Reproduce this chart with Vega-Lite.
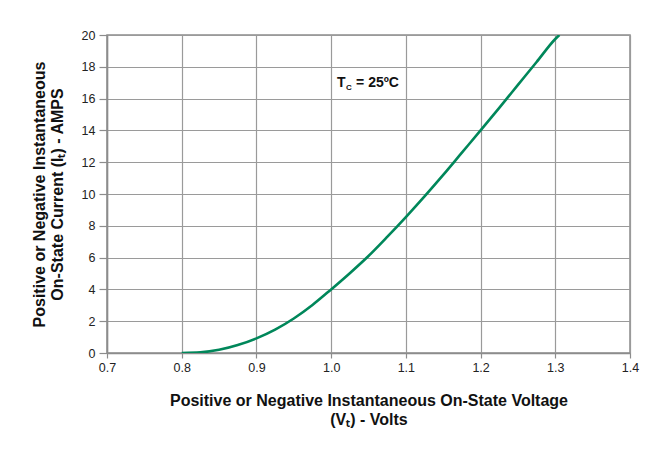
{
  "$schema": "https://vega.github.io/schema/vega-lite/v6.json",
  "autosize": {"type": "none"},
  "width": 523,
  "height": 318,
  "padding": {"left": 107, "top": 35, "right": 27, "bottom": 112},
  "background": "white",
  "config": {
    "view": {"stroke": "#8c8c8c", "strokeWidth": 1.5},
    "font": "Liberation Sans",
    "axis": {"labelFontSize": 12.5, "labelColor": "#222", "labelFont": "Liberation Sans"}
  },
  "datasets": {
    "curve": [
      {"V": 0.800, "I": 0},
      {"V": 0.825, "I": 0.04},
      {"V": 0.850, "I": 0.2},
      {"V": 0.875, "I": 0.5},
      {"V": 0.900, "I": 0.92},
      {"V": 0.925, "I": 1.47},
      {"V": 0.950, "I": 2.17},
      {"V": 0.975, "I": 3.02},
      {"V": 1.000, "I": 4.0},
      {"V": 1.025, "I": 5.02},
      {"V": 1.050, "I": 6.1},
      {"V": 1.075, "I": 7.3},
      {"V": 1.100, "I": 8.55},
      {"V": 1.125, "I": 9.85},
      {"V": 1.150, "I": 11.2},
      {"V": 1.175, "I": 12.6},
      {"V": 1.200, "I": 14.0},
      {"V": 1.225, "I": 15.42},
      {"V": 1.250, "I": 16.86},
      {"V": 1.275, "I": 18.3},
      {"V": 1.300, "I": 19.75},
      {"V": 1.3055, "I": 20.0}
    ],
    "note": [
      {"V": 1.008, "I": 17.0, "main": "T", "sub": "C", "rest": "= 25ºC"}
    ]
  },
  "encoding": {
    "x": {
      "field": "V", "type": "quantitative",
      "scale": {"domain": [0.7, 1.4], "nice": false, "zero": false},
      "axis": {
        "values": [0.7, 0.8, 0.9, 1.0, 1.1, 1.2, 1.3, 1.4],
        "format": ".1f",
        "labelFlush": false, "labelOverlap": false,
        "grid": true, "gridColor": "#9a9a9a", "gridWidth": 1.2, "gridOpacity": 1,
        "domainColor": "#8c8c8c", "domainWidth": 1.5,
        "tickColor": "#8c8c8c", "tickSize": 5, "tickWidth": 1.2,
        "labelFontSize": 12.5, "labelColor": "#222", "labelPadding": 3,
        "title": ["Positive or Negative Instantaneous On-State Voltage", "(Vₜ) - Volts"],
        "titleFontSize": 16, "titleFontWeight": "bold", "titleColor": "#111",
        "titlePadding": 19, "titleLineHeight": 19
      }
    },
    "y": {
      "field": "I", "type": "quantitative",
      "scale": {"domain": [0, 20], "nice": false},
      "axis": {
        "values": [0, 2, 4, 6, 8, 10, 12, 14, 16, 18, 20],
        "labelFlush": false, "labelOverlap": false,
        "grid": true, "gridColor": "#9a9a9a", "gridWidth": 1.2, "gridOpacity": 1,
        "domainColor": "#8c8c8c", "domainWidth": 1.5,
        "tickColor": "#8c8c8c", "tickSize": 8, "tickWidth": 1.2,
        "labelFontSize": 12.5, "labelColor": "#222", "labelPadding": 4,
        "title": ["Positive or Negative Instantaneous", "On-State Current (Iₜ) - AMPS"],
        "titleFontSize": 16, "titleFontWeight": "bold", "titleColor": "#111",
        "titlePadding": 16, "titleLineHeight": 18
      }
    }
  },
  "layer": [
    {
      "data": {"name": "curve"},
      "mark": {"type": "line", "color": "#00875a", "strokeWidth": 2.6, "interpolate": "monotone", "clip": true}
    },
    {
      "data": {"name": "note"},
      "mark": {"type": "text", "align": "left", "baseline": "middle", "fontSize": 14, "fontWeight": "bold", "color": "#111"},
      "encoding": {"text": {"field": "main"}}
    },
    {
      "data": {"name": "note"},
      "mark": {"type": "text", "align": "left", "baseline": "middle", "fontSize": 8, "fontWeight": "bold", "color": "#111", "dx": 9, "dy": 5},
      "encoding": {"text": {"field": "sub"}}
    },
    {
      "data": {"name": "note"},
      "mark": {"type": "text", "align": "left", "baseline": "middle", "fontSize": 14, "fontWeight": "bold", "color": "#111", "dx": 19},
      "encoding": {"text": {"field": "rest"}}
    }
  ]
}
